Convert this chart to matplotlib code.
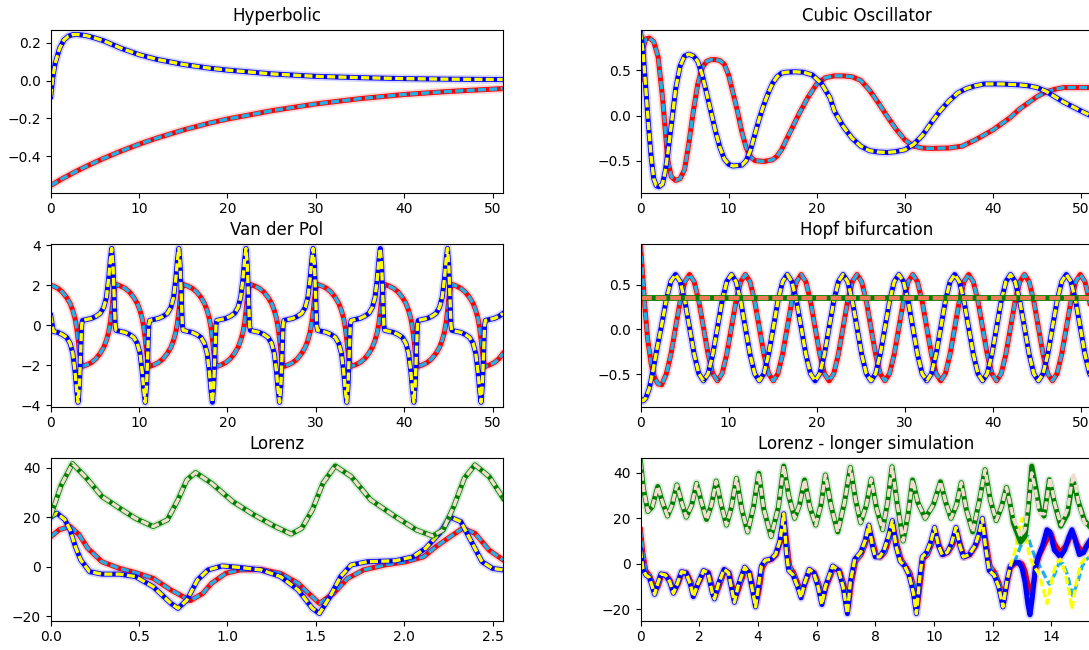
import numpy as np
import matplotlib
matplotlib.use("Agg")
import matplotlib.pyplot as plt

# ---------------- Hyperbolic ----------------
hyp_t = [0, 0.25, 0.5, 1, 1.5, 2, 2.5, 3, 4, 5, 6, 8, 10, 12, 15, 18, 20, 25, 30, 35, 40, 45, 51.15]
hyp_x = [-0.555, -0.549, -0.542, -0.528, -0.515, -0.503, -0.49, -0.478, -0.455, -0.433, -0.412, -0.373,
         -0.337, -0.305, -0.262, -0.225, -0.204, -0.16, -0.124, -0.096, -0.074, -0.058, -0.043]
hyp_y = [-0.085, 0.02, 0.09, 0.17, 0.215, 0.235, 0.243, 0.244, 0.238, 0.225, 0.21, 0.17,
         0.137, 0.112, 0.085, 0.065, 0.055, 0.035, 0.022, 0.015, 0.01, 0.007, 0.005]

# ---------------- Cubic oscillator ----------------
cub_tx = [0, 0.3, 0.6, 1.0, 1.5, 2.0, 2.5, 2.8, 3.1, 3.5, 4.0, 4.5, 5.0, 5.5, 6.0, 6.5, 7.0, 7.5, 8.0, 8.5,
          9.0, 9.5, 10.0, 10.5, 11.0, 11.5, 12.0, 12.5, 13.0, 14.0, 15.0, 15.5, 16.0, 17.0, 18.0, 19.0, 20.0,
          21.0, 22.0, 23.0, 24, 25, 26, 27, 28, 29, 30, 31, 32, 33, 35, 36.5, 38, 40, 41, 42, 43, 44, 45, 46,
          47, 48, 51.3]
cub_x = [0.40, 0.75, 0.85, 0.86, 0.82, 0.65, 0.2, -0.15, -0.5, -0.68, -0.72, -0.70, -0.6, -0.3, 0.05, 0.35,
         0.53, 0.6, 0.62, 0.62, 0.61, 0.57, 0.45, 0.25, 0.05, -0.18, -0.36, -0.46, -0.5, -0.51, -0.49, -0.45,
         -0.38, -0.18, 0.02, 0.2, 0.35, 0.42, 0.44, 0.44, 0.43, 0.39, 0.28, 0.14, -0.01, -0.15, -0.27, -0.34,
         -0.36, -0.365, -0.36, -0.34, -0.27, -0.16, -0.09, -0.02, 0.07, 0.14, 0.21, 0.26, 0.29, 0.31, 0.31]
cub_ty = [0, 0.3, 0.6, 0.9, 1.2, 1.5, 1.8, 2.1, 2.5, 2.8, 3.1, 3.4, 3.7, 4.0, 4.5, 5.0, 5.5, 6.0, 6.5, 7.0,
          7.5, 8.0, 8.5, 9.0, 9.5, 10.0, 10.5, 11.5, 12.0, 12.5, 13.0, 13.5, 14.0, 14.5, 15.0, 15.5, 16.0,
          16.5, 17.5, 18.5, 19.5, 20.5, 21.5, 22.0, 23.0, 24.0, 25.0, 26.0, 27.0, 28.0, 29.0, 30.0, 31.0,
          32.0, 33.0, 34.0, 35.0, 36.0, 37.0, 38.0, 39.0, 41.0, 43.0, 44.0, 45.0, 46.0, 47.0, 48.0, 49.0,
          50.0, 51.3]
cub_y = [0.93, 0.7, 0.3, -0.1, -0.45, -0.7, -0.78, -0.79, -0.76, -0.62, -0.42, -0.18, 0.06, 0.3, 0.55, 0.66,
         0.68, 0.66, 0.6, 0.45, 0.25, 0.04, -0.17, -0.35, -0.48, -0.54, -0.56, -0.55, -0.5, -0.38, -0.2,
         -0.03, 0.12, 0.25, 0.36, 0.43, 0.47, 0.48, 0.485, 0.48, 0.45, 0.36, 0.2, 0.05, -0.12, -0.25, -0.34,
         -0.39, -0.405, -0.41, -0.4, -0.38, -0.32, -0.22, -0.08, 0.05, 0.16, 0.25, 0.3, 0.33, 0.35, 0.35,
         0.34, 0.33, 0.31, 0.27, 0.21, 0.15, 0.1, 0.05, -0.01]

# ---------------- Van der Pol ----------------
vdp_t = [0.0, 0.3, 0.8, 1.3, 1.8, 2.2, 2.5, 2.75, 2.95, 3.1, 3.25, 3.4, 3.5,
         3.6, 4.1, 4.6, 5.1, 5.6, 6.0, 6.3, 6.55, 6.75, 6.9, 7.05, 7.2, 7.3,
         7.4, 7.9, 8.4, 8.9, 9.4, 9.8, 10.1, 10.35, 10.55, 10.7, 10.85, 11.0, 11.1,
         11.2, 11.7, 12.2, 12.7, 13.2, 13.6, 13.9, 14.15, 14.35, 14.5, 14.65, 14.8, 14.9,
         15.0, 15.5, 16.0, 16.5, 17.0, 17.4, 17.7, 17.95, 18.15, 18.3, 18.45, 18.6, 18.7,
         18.8, 19.3, 19.8, 20.3, 20.8, 21.2, 21.5, 21.75, 21.95, 22.1, 22.25, 22.4, 22.5,
         22.6, 23.1, 23.6, 24.1, 24.6, 25.0, 25.3, 25.55, 25.75, 25.9, 26.05, 26.2, 26.3,
         26.4, 26.9, 27.4, 27.9, 28.4, 28.8, 29.1, 29.35, 29.55, 29.7, 29.85, 30.0, 30.1,
         30.2, 30.7, 31.2, 31.7, 32.2, 32.6, 32.9, 33.15, 33.35, 33.5, 33.65, 33.8, 33.9,
         34.0, 34.5, 35.0, 35.5, 36.0, 36.4, 36.7, 36.95, 37.15, 37.3, 37.45, 37.6, 37.7,
         37.8, 38.3, 38.8, 39.3, 39.8, 40.2, 40.5, 40.75, 40.95, 41.1, 41.25, 41.4, 41.5,
         41.6, 42.1, 42.6, 43.1, 43.6, 44.0, 44.3, 44.55, 44.75, 44.9, 45.05, 45.2, 45.3,
         45.4, 45.9, 46.4, 46.9, 47.4, 47.8, 48.1, 48.35, 48.55, 48.7, 48.85, 49.0, 49.1,
         49.2, 49.7, 50.2, 50.7, 51.2]
vdp_x = [2.0, 1.97, 1.86, 1.68, 1.4, 1.1, 0.75, 0.35, -0.15, -0.7, -1.3, -1.8, -1.97,
         -2.05, -1.97, -1.86, -1.68, -1.4, -1.1, -0.75, -0.35, 0.15, 0.7, 1.3, 1.8, 1.97,
         2.05, 1.97, 1.86, 1.68, 1.4, 1.1, 0.75, 0.35, -0.15, -0.7, -1.3, -1.8, -1.97,
         -2.05, -1.97, -1.86, -1.68, -1.4, -1.1, -0.75, -0.35, 0.15, 0.7, 1.3, 1.8, 1.97,
         2.05, 1.97, 1.86, 1.68, 1.4, 1.1, 0.75, 0.35, -0.15, -0.7, -1.3, -1.8, -1.97,
         -2.05, -1.97, -1.86, -1.68, -1.4, -1.1, -0.75, -0.35, 0.15, 0.7, 1.3, 1.8, 1.97,
         2.05, 1.97, 1.86, 1.68, 1.4, 1.1, 0.75, 0.35, -0.15, -0.7, -1.3, -1.8, -1.97,
         -2.05, -1.97, -1.86, -1.68, -1.4, -1.1, -0.75, -0.35, 0.15, 0.7, 1.3, 1.8, 1.97,
         2.05, 1.97, 1.86, 1.68, 1.4, 1.1, 0.75, 0.35, -0.15, -0.7, -1.3, -1.8, -1.97,
         -2.05, -1.97, -1.86, -1.68, -1.4, -1.1, -0.75, -0.35, 0.15, 0.7, 1.3, 1.8, 1.97,
         2.05, 1.97, 1.86, 1.68, 1.4, 1.1, 0.75, 0.35, -0.15, -0.7, -1.3, -1.8, -1.97,
         -2.05, -1.97, -1.86, -1.68, -1.4, -1.1, -0.75, -0.35, 0.15, 0.7, 1.3, 1.8, 1.97,
         2.05, 1.97, 1.86, 1.68, 1.4, 1.1, 0.75, 0.35, -0.15, -0.7, -1.3, -1.8, -1.97,
         -2.05, -1.97, -1.86, -1.68, -1.4]
vdp_y = [0.5, -0.3, -0.35, -0.45, -0.6, -0.9, -1.4, -2.3, -3.3, -3.85, -3.0, -1.2, 0.0,
         0.25, 0.3, 0.35, 0.45, 0.6, 0.9, 1.4, 2.3, 3.3, 3.85, 3.0, 1.2, 0.0,
         -0.25, -0.3, -0.35, -0.45, -0.6, -0.9, -1.4, -2.3, -3.3, -3.85, -3.0, -1.2, 0.0,
         0.25, 0.3, 0.35, 0.45, 0.6, 0.9, 1.4, 2.3, 3.3, 3.85, 3.0, 1.2, 0.0,
         -0.25, -0.3, -0.35, -0.45, -0.6, -0.9, -1.4, -2.3, -3.3, -3.85, -3.0, -1.2, 0.0,
         0.25, 0.3, 0.35, 0.45, 0.6, 0.9, 1.4, 2.3, 3.3, 3.85, 3.0, 1.2, 0.0,
         -0.25, -0.3, -0.35, -0.45, -0.6, -0.9, -1.4, -2.3, -3.3, -3.85, -3.0, -1.2, 0.0,
         0.25, 0.3, 0.35, 0.45, 0.6, 0.9, 1.4, 2.3, 3.3, 3.85, 3.0, 1.2, 0.0,
         -0.25, -0.3, -0.35, -0.45, -0.6, -0.9, -1.4, -2.3, -3.3, -3.85, -3.0, -1.2, 0.0,
         0.25, 0.3, 0.35, 0.45, 0.6, 0.9, 1.4, 2.3, 3.3, 3.85, 3.0, 1.2, 0.0,
         -0.25, -0.3, -0.35, -0.45, -0.6, -0.9, -1.4, -2.3, -3.3, -3.85, -3.0, -1.2, 0.0,
         0.25, 0.3, 0.35, 0.45, 0.6, 0.9, 1.4, 2.3, 3.3, 3.85, 3.0, 1.2, 0.0,
         -0.25, -0.3, -0.35, -0.45, -0.6, -0.9, -1.4, -2.3, -3.3, -3.85, -3.0, -1.2, 0.0,
         0.25, 0.3, 0.35, 0.45, 0.6]

# ---------------- Hopf bifurcation ----------------
hopf_t_start = 3.98
hopf_dt = 0.528
hopf_ty0 = [0, 0.3, 0.6, 1.0, 1.4, 1.9, 2.40, 2.92, 3.45]
hopf_y0 = [-0.78, -0.8, -0.77, -0.66, -0.47, -0.2, 0.05, 0.33, 0.54]
hopf_tx0 = [0, 0.25, 0.5, 0.8, 1.2, 1.6, 2.0, 2.4, 2.92, 3.45]
hopf_x0 = [0.95, 0.6, 0.25, -0.1, -0.38, -0.54, -0.61, -0.62, -0.5, -0.28]
hopf_y1 = [0.615, 0.535, 0.318, 0.02, -0.278, -0.495, -0.575, -0.495, -0.278, 0.02, 0.318, 0.535,
           0.615, 0.535, 0.318, 0.02, -0.278, -0.495, -0.575, -0.495, -0.278, 0.02, 0.318, 0.535,
           0.615, 0.535, 0.318, 0.02, -0.278, -0.495, -0.575, -0.495, -0.278, 0.02, 0.318, 0.535,
           0.615, 0.535, 0.318, 0.02, -0.278, -0.495, -0.575, -0.495, -0.278, 0.02, 0.318, 0.535,
           0.615, 0.535, 0.318, 0.02, -0.278, -0.495, -0.575, -0.495, -0.278, 0.02, 0.318, 0.535,
           0.615, 0.535, 0.318, 0.02, -0.278, -0.495, -0.575, -0.495, -0.278, 0.02, 0.318, 0.535,
           0.615, 0.535, 0.318, 0.02, -0.278, -0.495, -0.575, -0.495, -0.278, 0.02, 0.318, 0.535,
           0.615, 0.535, 0.318, 0.02, -0.278, -0.495, -0.575]
hopf_x1 = [0.02, 0.318, 0.535, 0.615, 0.535, 0.318, 0.02, -0.278, -0.495, -0.575, -0.495, -0.278,
           0.02, 0.318, 0.535, 0.615, 0.535, 0.318, 0.02, -0.278, -0.495, -0.575, -0.495, -0.278,
           0.02, 0.318, 0.535, 0.615, 0.535, 0.318, 0.02, -0.278, -0.495, -0.575, -0.495, -0.278,
           0.02, 0.318, 0.535, 0.615, 0.535, 0.318, 0.02, -0.278, -0.495, -0.575, -0.495, -0.278,
           0.02, 0.318, 0.535, 0.615, 0.535, 0.318, 0.02, -0.278, -0.495, -0.575, -0.495, -0.278,
           0.02, 0.318, 0.535, 0.615, 0.535, 0.318, 0.02, -0.278, -0.495, -0.575, -0.495, -0.278,
           0.02, 0.318, 0.535, 0.615, 0.535, 0.318, 0.02, -0.278, -0.495, -0.575, -0.495, -0.278,
           0.02, 0.318, 0.535, 0.615, 0.535, 0.318, 0.02]
hopf_tmu = [0, 51.3]
hopf_mu = [0.35, 0.35]

# ---------------- Lorenz (short) ----------------
lz_tx = [0, 0.05, 0.11, 0.16, 0.21, 0.29, 0.39, 0.48, 0.58, 0.68, 0.79, 0.86, 0.91, 0.99, 1.07, 1.19, 1.30,
         1.40, 1.47, 1.52, 1.60, 1.68, 1.77, 1.89, 2.01, 2.11, 2.18, 2.26, 2.33, 2.40, 2.48, 2.56]
lz_x = [12.1, 15, 16.2, 13, 7.4, 2.0, -0.7, -2.4, -4.7, -9.4, -13.7, -10.8, -6.7, -2.7, -1.3, -1.1, -2.7,
        -6.7, -11.5, -14.8, -10.8, -4.7, -1.3, 0.7, 2.0, 4.0, 8.1, 12.1, 15.5, 13.5, 6.7, 2.7]
lz_ty = [0, 0.035, 0.08, 0.11, 0.14, 0.17, 0.22, 0.29, 0.39, 0.48, 0.58, 0.68, 0.72, 0.77, 0.83, 0.89, 0.97,
         1.07, 1.19, 1.30, 1.40, 1.48, 1.52, 1.58, 1.64, 1.70, 1.79, 1.95, 2.05, 2.12, 2.20, 2.26, 2.32,
         2.38, 2.44, 2.50, 2.56]
lz_y = [20, 21.6, 19, 14.8, 8, 2.7, -2.0, -3.0, -3.0, -4.0, -8.1, -14.8, -16.8, -13.5, -5.4, -1.3, 0.3,
        -0.3, -1.3, -4.0, -9.4, -16.8, -18.9, -12.1, -4.0, 0.7, 2.0, 2.4, 4.0, 7.4, 13.5, 20, 18.2,
        10.1, 2.0, -0.7, -1.3]
lz_tz = [0, 0.06, 0.123, 0.2, 0.29, 0.39, 0.48, 0.58, 0.66, 0.72, 0.77, 0.82, 0.91, 1.03, 1.15, 1.27, 1.36,
         1.42, 1.48, 1.54, 1.61, 1.70, 1.81, 1.95, 2.07, 2.16, 2.22, 2.28, 2.34, 2.40, 2.48, 2.56]
lz_z = [20.5, 33, 41.6, 36, 28.3, 23.6, 19.5, 16.2, 18.9, 27, 35, 38, 33.7, 26.3, 20.9, 16.2, 13.2,
        15.5, 22.9, 33.7, 40.7, 36.4, 27, 20.2, 14.8, 12.4, 14.8, 24.3, 35.7, 41.1, 36.4, 27.6]

# ---------------- Lorenz (longer simulation) ----------------
lz2_tx_pre = [0, 0.08, 0.18, 0.3, 0.4, 0.5, 0.6, 0.72, 0.87, 1.0, 1.15, 1.28, 1.42, 1.57, 1.72, 1.83, 1.97,
              2.17, 2.32, 2.47, 2.55, 2.68, 2.87, 3.02, 3.15, 3.23, 3.35, 3.57, 3.72, 3.85, 3.95, 4.05,
              4.15, 4.28, 4.48, 4.63, 4.78, 4.9, 5.0, 5.08, 5.22, 5.37, 5.5, 5.6, 5.78, 5.93, 6.08, 6.2,
              6.33, 6.58, 6.78, 6.93, 7.08, 7.18, 7.33, 7.52, 7.67, 7.8, 7.93, 8.03, 8.18, 8.33, 8.48,
              8.6, 8.73, 8.88, 9.03, 9.18, 9.33, 9.43, 9.53, 9.63, 9.78, 9.93, 10.05, 10.18, 10.31,
              10.48, 10.63, 10.78, 10.91, 11.03, 11.23, 11.43, 11.58, 11.68, 11.78, 11.91, 12.08,
              12.23, 12.38, 12.5, 12.6]
lz2_x_pre = [15, 5, -3, -5, -8, -12, -10, -5, -5, -7, -12, -9, -4, -4, -8, -13, -9, -3.5, -4, -11,
             -14, -10, -3, -4, -11, -15, -11, -2.5, -4, -11, -17, -11, -2, 1, 2, 4, 10, 18, 8, -1,
             -4, -9, -13, -9, -3, -4, -9, -16, -10, -2, -3, -9, -19, -9, 1, 4, 9, 15, 9, 4,
             3, 5, 11, 17, 9, 2, -1, -4, -11, -19, -9, 2, 4, 9, 14, 8, 4, 5, 8, 14,
             8, 3, 4, 8, 13, 17, 9, -1, -4, -9, -16, -8, -2]
lz2_tx_true_post = [12.75, 12.9, 13.0, 13.1, 13.2, 13.3, 13.4, 13.5, 13.6, 13.75, 13.9, 14.0, 14.1, 14.3,
                    14.5, 14.65, 14.75, 14.9, 15.05, 15.2, 15.4]
lz2_x_true_post = [0, 0.5, 0, -3, -9, -13, -8, 0, 4, 8, 12, 13, 9, 5, 8, 12, 13, 8, 5, 8, 11]
lz2_tx_model_post = [12.75, 12.9, 13.05, 13.2, 13.35, 13.5, 13.65, 13.8, 13.93, 14.1, 14.25, 14.4, 14.55,
                     14.72, 14.9, 15.05, 15.2, 15.4]
lz2_x_model_post = [1, 6, 11, 12, 6, 1, -2, -6, -9, -5, 0, 0, -5, -14, -8, -1, 2, 4]

lz2_ty_pre = [0, 0.08, 0.18, 0.3, 0.4, 0.48, 0.58, 0.7, 0.85, 1.0, 1.12, 1.25, 1.4, 1.55, 1.7, 1.8, 1.95,
              2.15, 2.3, 2.45, 2.52, 2.65, 2.85, 3.0, 3.12, 3.2, 3.32, 3.55, 3.7, 3.82, 3.92, 4.02, 4.12,
              4.25, 4.45, 4.6, 4.75, 4.88, 4.97, 5.05, 5.2, 5.35, 5.47, 5.58, 5.75, 5.9, 6.05, 6.18, 6.3,
              6.55, 6.75, 6.9, 7.05, 7.15, 7.3, 7.5, 7.65, 7.78, 7.9, 8.0, 8.15, 8.3, 8.45, 8.58, 8.7,
              8.85, 9.0, 9.15, 9.3, 9.4, 9.5, 9.6, 9.75, 9.9, 10.02, 10.15, 10.28, 10.45, 10.6, 10.75,
              10.88, 11.0, 11.2, 11.4, 11.55, 11.65, 11.75, 11.88, 12.05, 12.2, 12.35, 12.48, 12.6]
lz2_y_pre = [6, -2, -5, -6, -10, -13.5, -9, -4.5, -5, -8, -13, -9, -3.5, -4, -9, -14.5, -9, -3, -4, -13,
             -15.5, -9, -2.5, -4, -12, -17, -10, -1.5, -4, -12, -19, -10, -1, 1.5, 2, 4, 10, 22, 5, -3,
             -5, -10, -15, -9, -2.5, -4, -10, -18, -10, -1, -3, -10, -22, -8, 2, 5, 10, 17, 8, 3,
             3, 6, 12, 19, 8, 1, -1, -5, -13, -22, -8, 3, 5, 10, 16, 8, 4, 5, 9, 16,
             8, 3, 4, 8, 14, 20, 8, -3, -5, -10, -19, -8, -1]
lz2_ty_true_post = [12.75, 12.9, 13.0, 13.1, 13.2, 13.27, 13.35, 13.45, 13.55, 13.7, 13.85, 13.95, 14.1,
                    14.3, 14.45, 14.6, 14.7, 14.8, 14.95, 15.1, 15.25, 15.4]
lz2_y_true_post = [0.5, 0.5, -2, -8, -18, -22.5, -15, -2, 3, 8, 15, 14, 6, 3, 6, 12, 15, 11, 4, 5, 9, 12]
lz2_ty_model_post = [12.75, 12.9, 13.0, 13.1, 13.25, 13.4, 13.55, 13.7, 13.85, 14.0, 14.15, 14.3, 14.45,
                     14.6, 14.7, 14.85, 15.0, 15.2, 15.4]
lz2_y_model_post = [5, 15, 20, 15, 3, -1, -4, -10, -17.5, -8, 0, 2, -3, -12, -20, -8, 0, 3, 4]

lz2_tz_pre = [0, 0.1, 0.25, 0.4, 0.59, 0.75, 0.92, 1.08, 1.24, 1.4, 1.56, 1.75, 1.91, 2.08, 2.25, 2.42,
              2.58, 2.75, 2.93, 3.1, 3.27, 3.45, 3.65, 3.85, 4.03, 4.2, 4.45, 4.7, 4.88, 5.05, 5.25,
              5.42, 5.59, 5.77, 5.97, 6.15, 6.3, 6.5, 6.72, 6.95, 7.15, 7.33, 7.5, 7.7, 7.86, 8.05,
              8.25, 8.42, 8.57, 8.75, 8.95, 9.12, 9.27, 9.45, 9.7, 9.98, 10.22, 10.4, 10.58, 10.77,
              10.93, 11.1, 11.32, 11.55, 11.74, 11.92, 12.12, 12.3, 12.47, 12.6]
lz2_z_pre = [45, 33, 23, 25, 34, 27, 21, 26, 34.7, 27, 20.5, 26, 35.4, 27, 19.5, 26, 36.4, 26, 17, 25,
             37.6, 24, 14, 25, 39.8, 24, 12, 25, 43, 30, 20, 26, 36.9, 25, 17, 26, 39.1, 25, 14, 27,
             42.4, 28, 18, 26, 37.3, 24, 15, 27, 42.7, 26, 10, 22, 36.9, 27, 20, 26, 36.1, 27, 20, 26,
             35.7, 24, 14, 28, 41.4, 28, 19, 25, 33.6, 26]
lz2_tz_true_post = [12.7, 12.95, 13.1, 13.2, 13.33, 13.45, 13.6, 13.75, 13.93, 14.1, 14.32, 14.55, 14.73,
                    14.9, 15.13, 15.4]
lz2_z_true_post = [18, 9.5, 12, 22, 43, 35, 24, 21, 37, 27, 16.5, 22, 37, 28, 19, 15]
lz2_tz_model_post = [12.7, 12.95, 13.1, 13.2, 13.33, 13.45, 13.6, 13.77, 13.95, 14.12, 14.33, 14.55, 14.75,
                     14.92, 15.13, 15.4]
lz2_z_model_post = [20, 12, 15, 24, 40, 33, 22, 22, 38, 26, 17, 24, 40, 27, 18, 16]

titles = ["Hyperbolic", "Cubic Oscillator", "Van der Pol", "Hopf bifurcation", "Lorenz",
          "Lorenz - longer simulation"]

# ---------------- styling ----------------
C_X, C_XM = "#ff0000", "#1fb2e8"
C_Y, C_YM = "#0000ff", "#ffff00"
C_Z, C_ZM = "#008000", "#f3ddd0"
C_MU_M = "#ec7a55"

FW, FH = 1089, 650
fig = plt.figure(figsize=(FW / 100, FH / 100), dpi=100)
W = 452 / FW
H = 163 / FH
lefts = [50.7 / FW, 640.5 / FW]
bottoms = [(FH - 192.7) / FH, (FH - 406.7) / FH, (FH - 620.7) / FH]


def pair(ax, tt, vt, tm, vm, ct, cm, lw_m=2.4):
    ax.plot(tt, vt, color=ct, lw=6.2, alpha=0.16, solid_capstyle="round", solid_joinstyle="round")
    ax.plot(tt, vt, color=ct, lw=3.6, solid_joinstyle="round")
    ax.plot(tm, vm, color=cm, lw=lw_m, dashes=(2.4, 1.0))


axes = []
for r in range(3):
    for c in range(2):
        ax = fig.add_axes([lefts[c], bottoms[r], W, H])
        axes.append(ax)

# Hyperbolic
ax = axes[0]
pair(ax, hyp_t, hyp_x, hyp_t, hyp_x, C_X, C_XM)
pair(ax, hyp_t, hyp_y, hyp_t, hyp_y, C_Y, C_YM)
ax.set_xlim(0, 51.15)
ax.set_ylim(-0.594, 0.269)

# Cubic
ax = axes[1]
pair(ax, cub_tx, cub_x, cub_tx, cub_x, C_X, C_XM)
pair(ax, cub_ty, cub_y, cub_ty, cub_y, C_Y, C_YM)
ax.set_xlim(0, 51.3)
ax.set_ylim(-0.856, 0.952)

# Van der Pol
ax = axes[2]
pair(ax, vdp_t, vdp_x, vdp_t, vdp_x, C_X, C_XM)
pair(ax, vdp_t, vdp_y, vdp_t, vdp_y, C_Y, C_YM)
ax.set_xlim(0, 51.15)
ax.set_ylim(-4.07, 4.09)

# Hopf
ax = axes[3]
t_grid_y = list(hopf_t_start + hopf_dt * np.arange(len(hopf_y1)))
t_grid_x = list(hopf_t_start + hopf_dt * np.arange(len(hopf_x1)))
hx_t = hopf_tx0 + t_grid_x
hx = hopf_x0 + hopf_x1
hy_t = hopf_ty0 + t_grid_y
hy = hopf_y0 + hopf_y1
pair(ax, hx_t, hx, hx_t, hx, C_X, C_XM)
pair(ax, hy_t, hy, hy_t, hy, C_Y, C_YM)
ax.plot(hopf_tmu, hopf_mu, color=C_Z, lw=4.2, solid_capstyle="butt")
ax.plot(hopf_tmu, hopf_mu, color=C_MU_M, lw=3.0, dashes=(2.6, 0.9))
ax.set_xlim(0, 51.3)
ax.set_ylim(-0.865, 0.96)

# Lorenz
ax = axes[4]
pair(ax, lz_tx, lz_x, lz_tx, lz_x, C_X, C_XM)
pair(ax, lz_ty, lz_y, lz_ty, lz_y, C_Y, C_YM)
pair(ax, lz_tz, lz_z, lz_tz, lz_z, C_Z, C_ZM)
ax.set_xlim(0, 2.557)
ax.set_ylim(-21.8, 44.0)

# Lorenz long
ax = axes[5]
pair(ax, lz2_tx_pre + lz2_tx_true_post, lz2_x_pre + lz2_x_true_post,
     lz2_tx_pre + lz2_tx_model_post, lz2_x_pre + lz2_x_model_post, C_X, C_XM)
pair(ax, lz2_ty_pre + lz2_ty_true_post, lz2_y_pre + lz2_y_true_post,
     lz2_ty_pre + lz2_ty_model_post, lz2_y_pre + lz2_y_model_post, C_Y, C_YM)
pair(ax, lz2_tz_pre + lz2_tz_true_post, lz2_z_pre + lz2_z_true_post,
     lz2_tz_pre + lz2_tz_model_post, lz2_z_pre + lz2_z_model_post, C_Z, C_ZM)
ax.set_xlim(0, 15.4)
ax.set_ylim(-25.1, 46.7)

for ax, ttl in zip(axes, titles):
    ax.set_title(ttl, fontsize=12)

fig.savefig("out.png", dpi=100)
